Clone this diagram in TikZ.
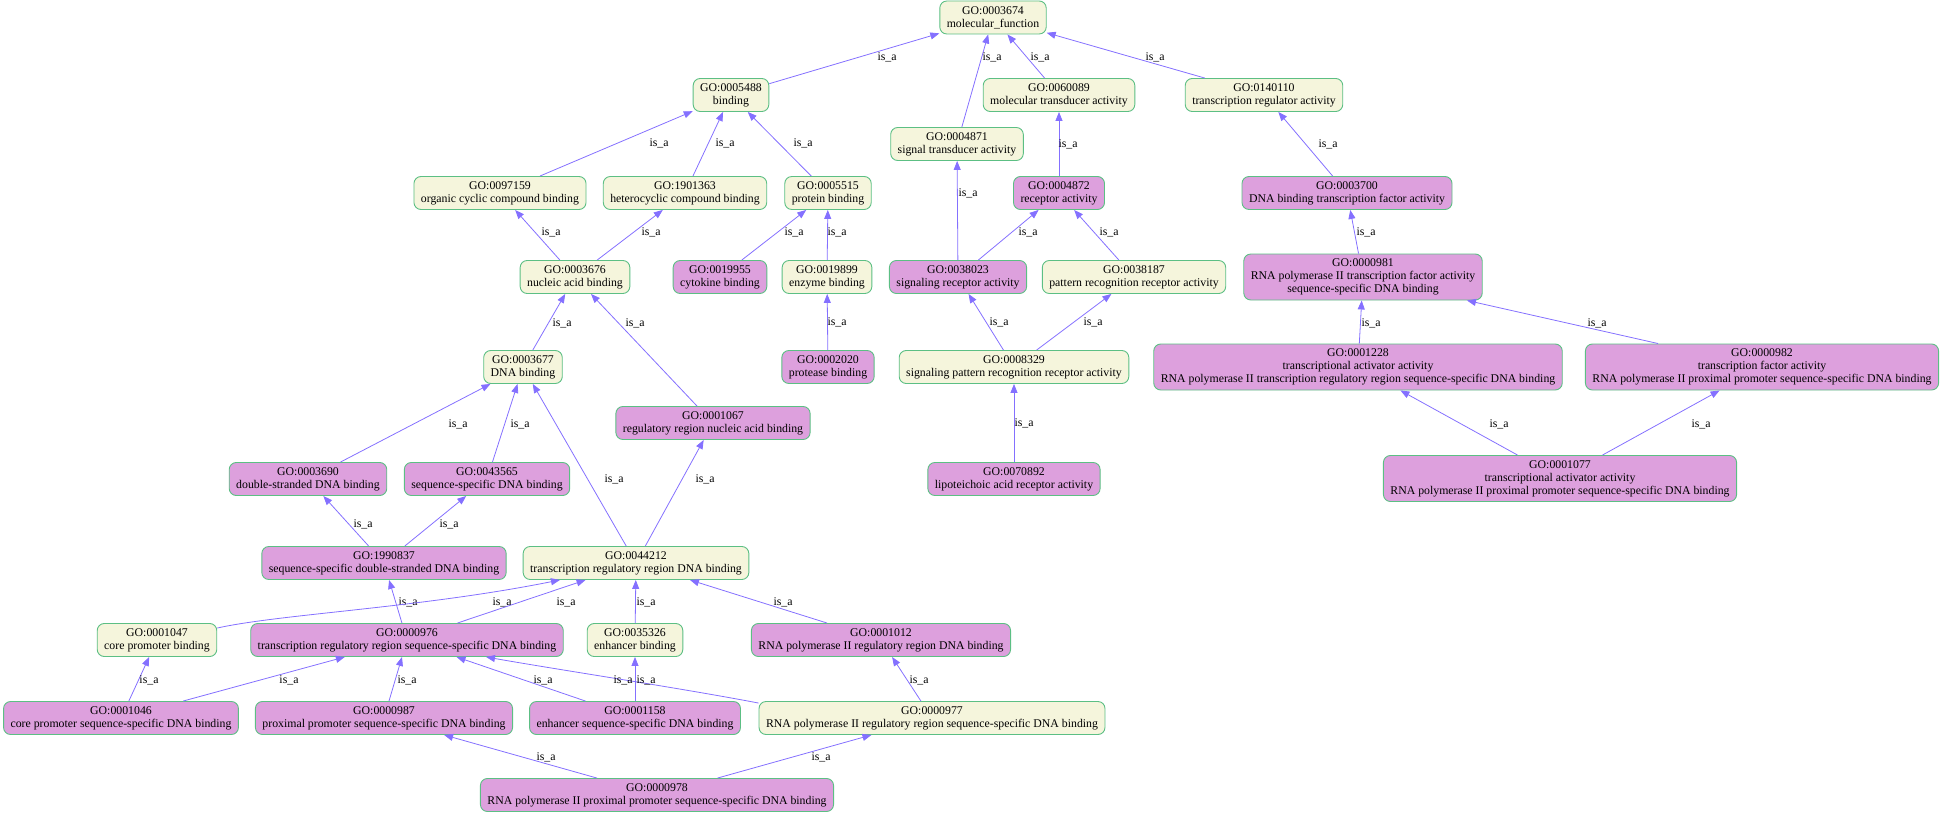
\documentclass[tikz,border=0pt]{standalone}
\usepackage{fontspec}
\setmainfont{Liberation Serif}
\usetikzlibrary{arrows.meta}
\definecolor{termfill}{HTML}{F5F5DC}
\definecolor{hitfill}{HTML}{DDA0DD}
\definecolor{termline}{HTML}{5CBF84}
\definecolor{isaline}{HTML}{8470FF}
\newcommand{\gofont}{\fontsize{11.8}{13}\selectfont}
\tikzset{
  term/.style={draw=termline, line width=0.9pt, rounded corners=7pt, fill=termfill,
    align=center, font=\gofont, inner xsep=7pt, inner ysep=0pt, minimum height=33pt},
  hit/.style={term, fill=hitfill},
  tall/.style={minimum height=46pt},
  isa/.style={draw=isaline, line width=0.8pt, -{Triangle[length=9pt,width=7pt]}},
  lbl/.style={font=\gofont, inner sep=0pt},
}
\begin{document}
\begin{tikzpicture}[x=1pt,y=-1pt]
\useasboundingbox (0,0) rectangle (1943,813);
\node[term] (n3674) at (993,17.5) {GO:0003674\\molecular\_function};
\node[term] (n5488) at (731,95) {GO:0005488\\binding};
\node[term] (n60089) at (1059,95) {GO:0060089\\molecular transducer activity};
\node[term] (n140110) at (1264,95) {GO:0140110\\transcription regulator activity};
\node[term] (n4871) at (957,144) {GO:0004871\\signal transducer activity};
\node[term] (n97159) at (500,193) {GO:0097159\\organic cyclic compound binding};
\node[term] (n1901363) at (685,193) {GO:1901363\\heterocyclic compound binding};
\node[term] (n5515) at (828,193) {GO:0005515\\protein binding};
\node[hit] (n4872) at (1059,193) {GO:0004872\\receptor activity};
\node[hit] (n3700) at (1347,193) {GO:0003700\\DNA binding transcription factor activity};
\node[term] (n3676) at (575,277) {GO:0003676\\nucleic acid binding};
\node[hit] (n19955) at (720,277) {GO:0019955\\cytokine binding};
\node[term] (n19899) at (827,277) {GO:0019899\\enzyme binding};
\node[hit] (n38023) at (958,277) {GO:0038023\\signaling receptor activity};
\node[term] (n38187) at (1134,277) {GO:0038187\\pattern recognition receptor activity};
\node[hit,tall] (n981) at (1363,277) {GO:0000981\\RNA polymerase II transcription factor activity\\sequence-specific DNA binding};
\node[term] (n3677) at (523,367) {GO:0003677\\DNA binding};
\node[hit] (n2020) at (828,367) {GO:0002020\\protease binding};
\node[term] (n8329) at (1014,367) {GO:0008329\\signaling pattern recognition receptor activity};
\node[hit,tall] (n1228) at (1358,367) {GO:0001228\\transcriptional activator activity\\RNA polymerase II transcription regulatory region sequence-specific DNA binding};
\node[hit,tall] (n982) at (1762,367) {GO:0000982\\transcription factor activity\\RNA polymerase II proximal promoter sequence-specific DNA binding};
\node[hit] (n1067) at (713,423) {GO:0001067\\regulatory region nucleic acid binding};
\node[hit] (n70892) at (1014,479) {GO:0070892\\lipoteichoic acid receptor activity};
\node[hit,tall] (n1077) at (1560,478.5) {GO:0001077\\transcriptional activator activity\\RNA polymerase II proximal promoter sequence-specific DNA binding};
\node[hit] (n3690) at (308,479) {GO:0003690\\double-stranded DNA binding};
\node[hit] (n43565) at (487,479) {GO:0043565\\sequence-specific DNA binding};
\node[hit] (n1990837) at (384,563) {GO:1990837\\sequence-specific double-stranded DNA binding};
\node[term] (n44212) at (636,563) {GO:0044212\\transcription regulatory region DNA binding};
\node[term] (n1047) at (157,640) {GO:0001047\\core promoter binding};
\node[hit] (n976) at (407,640) {GO:0000976\\transcription regulatory region sequence-specific DNA binding};
\node[term] (n35326) at (635,640) {GO:0035326\\enhancer binding};
\node[hit] (n1012) at (881,640) {GO:0001012\\RNA polymerase II regulatory region DNA binding};
\node[hit] (n1046) at (121,718) {GO:0001046\\core promoter sequence-specific DNA binding};
\node[hit] (n987) at (384,718) {GO:0000987\\proximal promoter sequence-specific DNA binding};
\node[hit] (n1158) at (635,718) {GO:0001158\\enhancer sequence-specific DNA binding};
\node[term] (n977) at (932,718) {GO:0000977\\RNA polymerase II regulatory region sequence-specific DNA binding};
\node[hit] (n978) at (657,795) {GO:0000978\\RNA polymerase II proximal promoter sequence-specific DNA binding};

\draw[isa] (n5488) -- (n3674) node[lbl] at (887,57) {is\_a};
\draw[isa] (n4871) -- (n3674) node[lbl] at (992,57) {is\_a};
\draw[isa] (n60089) -- (n3674) node[lbl] at (1040,57) {is\_a};
\draw[isa] (n140110) -- (n3674) node[lbl] at (1155,57) {is\_a};
\draw[isa] (n97159) -- (n5488) node[lbl] at (659,143) {is\_a};
\draw[isa] (n1901363) -- (n5488) node[lbl] at (725,143) {is\_a};
\draw[isa] (n5515) -- (n5488) node[lbl] at (803,143) {is\_a};
\draw[isa] (n4872) -- (n60089) node[lbl] at (1068,144) {is\_a};
\draw[isa] (n3700) -- (n140110) node[lbl] at (1328,144) {is\_a};
\draw[isa] (n38023) -- (n4871) node[lbl] at (968,193) {is\_a};
\draw[isa] (n3676) -- (n97159) node[lbl] at (551,232) {is\_a};
\draw[isa] (n3676) -- (n1901363) node[lbl] at (651,232) {is\_a};
\draw[isa] (n19955) -- (n5515) node[lbl] at (794,232) {is\_a};
\draw[isa] (n19899) -- (n5515) node[lbl] at (837,232) {is\_a};
\draw[isa] (n38023) -- (n4872) node[lbl] at (1028,232) {is\_a};
\draw[isa] (n38187) -- (n4872) node[lbl] at (1109,232) {is\_a};
\draw[isa] (n981) -- (n3700) node[lbl] at (1366,232) {is\_a};
\draw[isa] (n3677) -- (n3676) node[lbl] at (562,323) {is\_a};
\draw[isa] (n1067) -- (n3676) node[lbl] at (635,323) {is\_a};
\draw[isa] (n2020) -- (n19899) node[lbl] at (837,322) {is\_a};
\draw[isa] (n8329) -- (n38023) node[lbl] at (999,322) {is\_a};
\draw[isa] (n8329) -- (n38187) node[lbl] at (1093,322) {is\_a};
\draw[isa] (n1228) -- (n981) node[lbl] at (1371,323) {is\_a};
\draw[isa] (n982) -- (n981) node[lbl] at (1597,323) {is\_a};
\draw[isa] (n3690) -- (n3677) node[lbl] at (458,424) {is\_a};
\draw[isa] (n43565) -- (n3677) node[lbl] at (520,424) {is\_a};
\draw[isa] (n70892) -- (n8329) node[lbl] at (1024,423) {is\_a};
\draw[isa] (n1077) -- (n1228) node[lbl] at (1499,424) {is\_a};
\draw[isa] (n1077) -- (n982) node[lbl] at (1701,424) {is\_a};
\draw[isa] (n44212) -- (n3677) node[lbl] at (614,479) {is\_a};
\draw[isa] (n44212) -- (n1067) node[lbl] at (705,479) {is\_a};
\draw[isa] (n1990837) -- (n3690) node[lbl] at (363,524) {is\_a};
\draw[isa] (n1990837) -- (n43565) node[lbl] at (449,524) {is\_a};
\draw[isa] (n976) -- (n1990837) node[lbl] at (408,602) {is\_a};
\draw[isa] ([yshift=-5pt]n1047.north east) .. controls (280,614) and (420,608) .. ([xshift=-76pt]n44212.south) node[lbl] at (502,602) {is\_a};
\draw[isa] (n976) -- (n44212) node[lbl] at (566,602) {is\_a};
\draw[isa] (n35326) -- (n44212) node[lbl] at (646,602) {is\_a};
\draw[isa] (n1012) -- (n44212) node[lbl] at (783,602) {is\_a};
\draw[isa] (n1046) -- (n1047) node[lbl] at (149,680) {is\_a};
\draw[isa] (n1046) -- (n976) node[lbl] at (289,680) {is\_a};
\draw[isa] (n987) -- (n976) node[lbl] at (407,680) {is\_a};
\draw[isa] (n1158) -- (n976) node[lbl] at (543,680) {is\_a};
\draw[isa] ([yshift=-2pt]n977.north west) .. controls (680,688) and (560,670) .. ([xshift=79pt]n976.south) node[lbl] at (623,680) {is\_a};
\draw[isa] (n1158) -- (n35326) node[lbl] at (646,680) {is\_a};
\draw[isa] (n977) -- (n1012) node[lbl] at (919,680) {is\_a};
\draw[isa] (n978) -- (n987) node[lbl] at (546,757) {is\_a};
\draw[isa] (n978) -- (n977) node[lbl] at (821,757) {is\_a};
\end{tikzpicture}
\end{document}
